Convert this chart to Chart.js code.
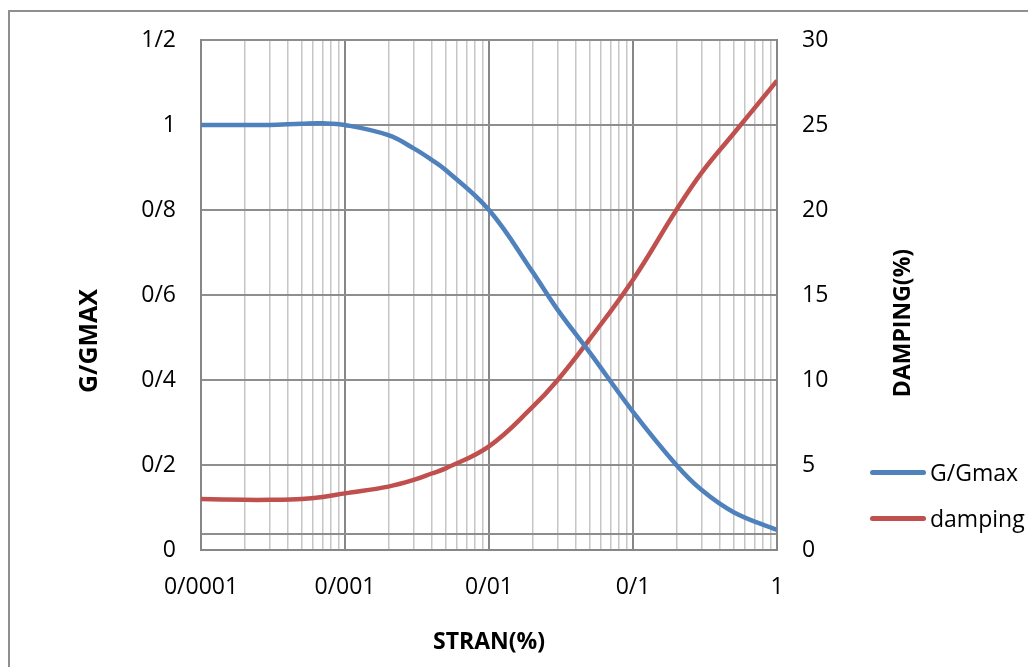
<!DOCTYPE html>
<html lang="en">
<head>
    <meta charset="UTF-8">
    <title>G/Gmax and damping</title>
    <script src="https://cdn.jsdelivr.net/npm/chart.js"></script>
    <style>
        body {
            margin: 0;
            padding: 0;
            background: #ffffff;
            font-family: "Open Sans", sans-serif;
        }

        .frame {
            position: absolute;
            left: 8px;
            top: 10px;
            width: 1040px;
            height: 700px;
            border-left: 2px solid #8f8f8f;
            border-top: 2px solid #8f8f8f;
            pointer-events: none;
        }

        .wrap {
            position: absolute;
            left: 0;
            top: 0;
            width: 1028px;
            height: 667px;
        }

        .legend {
            position: absolute;
            left: 870px;
            top: 449px;
            font-size: 23px;
            color: #000;
        }

        .legend-item {
            display: flex;
            align-items: center;
            height: 46px;
        }

        .legend-line {
            display: inline-block;
            width: 56px;
            height: 5px;
            border-radius: 3px;
            margin-right: 4px;
        }
    </style>
</head>
<body>
    <div class="wrap"><canvas id="chart"></canvas></div>
    <div class="frame"></div>
    <div class="legend" id="legend"></div>

    <script>
        // data
        const strain = [0.0001, 0.0002, 0.0003, 0.0005, 0.0007, 0.001, 0.002, 0.003, 0.004, 0.005, 0.01, 0.02, 0.03, 0.05, 0.1, 0.2, 0.3, 0.5, 1];
        const gGmax = [1.0, 1.0, 1.0, 1.003, 1.004, 1.0, 0.976, 0.945, 0.918, 0.894, 0.80, 0.655, 0.565, 0.465, 0.325, 0.2, 0.141, 0.089, 0.047];
        const damping = [3.0, 2.95, 2.95, 3.0, 3.12, 3.33, 3.73, 4.12, 4.5, 4.8, 6.1, 8.4, 10.0, 12.4, 15.9, 20.0, 22.2, 24.5, 27.6];

        const xMajorTicks = [0.0001, 0.001, 0.01, 0.1, 1];
        const leftTicks = [0, 0.2, 0.4, 0.6, 0.8, 1, 1.2];
        const leftExtraLine = [0.0376];
        const rightTicks = [0, 5, 10, 15, 20, 25, 30];

        const seriesNames = ['G/Gmax', 'damping'];
        const seriesColors = ['#4F81BD', '#C0504D'];
        const leftTitle = 'G/GMAX';
        const rightTitle = 'DAMPING(%)';

        // minor ticks 2..9 per decade
        const xTicks = [];
        xMajorTicks.forEach((d, i) => {
            xTicks.push(d);
            if (i < xMajorTicks.length - 1) {
                for (let k = 2; k <= 9; k++) xTicks.push(+(d * k).toPrecision(3));
            }
        });

        const slash = v => String(v).replace('.', '/');
        const tickFont = { family: 'Open Sans', size: 23 };
        const titleFont = { family: 'Open Sans', size: 23, weight: 'bold' };

        function drawUpTitle(ctx, text, x, y, size) {
            ctx.save();
            ctx.translate(x, y);
            ctx.rotate(-Math.PI / 2);
            ctx.font = 'bold ' + size + 'px "Open Sans"';
            ctx.fillStyle = '#000';
            ctx.textAlign = 'center';
            ctx.textBaseline = 'middle';
            ctx.fillText(text, 0, 0);
            ctx.restore();
        }

        // both y titles read bottom to top and sit a bit below the middle
        const yTitlesPlugin = {
            id: 'yTitles',
            afterDraw(chart) {
                const area = chart.chartArea;
                const mid = (area.top + area.bottom) / 2;
                drawUpTitle(chart.ctx, leftTitle, chart.scales.y.left + 90, mid + 46, 25);
                drawUpTitle(chart.ctx, rightTitle, chart.scales.y1.left + 126, mid + 28, 23);
            }
        };

        new Chart(document.getElementById('chart'), {
            type: 'line',
            data: {
                datasets: [
                    {
                        label: seriesNames[0],
                        data: strain.map((x, i) => ({ x: x, y: gGmax[i] })),
                        borderColor: seriesColors[0],
                        borderWidth: 4.5,
                        pointRadius: 0,
                        tension: 0.4,
                        yAxisID: 'y'
                    },
                    {
                        label: seriesNames[1],
                        data: strain.map((x, i) => ({ x: x, y: damping[i] })),
                        borderColor: seriesColors[1],
                        borderWidth: 4.5,
                        pointRadius: 0,
                        tension: 0.4,
                        yAxisID: 'y1'
                    }
                ]
            },
            options: {
                responsive: true,
                maintainAspectRatio: false,
                animation: false,
                layout: { padding: { top: 40, right: 103, bottom: 0, left: 0 } },
                plugins: {
                    legend: { display: false },
                    tooltip: { enabled: false }
                },
                scales: {
                    x: {
                        type: 'logarithmic',
                        min: 0.0001,
                        max: 1,
                        afterBuildTicks: s => { s.ticks = xTicks.map(v => ({ value: v })); },
                        afterFit: s => { s.height = 117; },
                        ticks: {
                            autoSkip: false,
                            maxRotation: 0,
                            padding: 24,
                            color: '#000',
                            font: tickFont,
                            callback: v => xMajorTicks.includes(v) ? slash(v) : ''
                        },
                        grid: {
                            drawTicks: false,
                            lineWidth: c => xMajorTicks.includes(c.tick.value) ? 2 : 1.5,
                            color: c => xMajorTicks.includes(c.tick.value) ? '#878787' : '#c6c6c6'
                        },
                        border: { color: '#878787', width: 2 },
                        title: {
                            display: true,
                            text: 'STRAN(%)',
                            color: '#000',
                            font: titleFont,
                            padding: { top: 0, bottom: 11 }
                        }
                    },
                    y: {
                        position: 'left',
                        min: 0,
                        max: 1.2,
                        afterBuildTicks: s => { s.ticks = leftTicks.concat(leftExtraLine).map(v => ({ value: v })); },
                        afterFit: s => { s.width = 201; },
                        ticks: {
                            padding: 25,
                            color: '#000',
                            font: tickFont,
                            callback: v => leftTicks.includes(v) ? slash(v) : ''
                        },
                        grid: { drawTicks: false, color: '#8e8e8e', lineWidth: 2 },
                        border: { color: '#878787', width: 2 }
                    },
                    y1: {
                        position: 'right',
                        min: 0,
                        max: 30,
                        afterBuildTicks: s => { s.ticks = rightTicks.map(v => ({ value: v })); },
                        afterFit: s => { s.width = 148; },
                        ticks: {
                            padding: 25,
                            color: '#000',
                            font: tickFont
                        },
                        grid: { drawOnChartArea: false, drawTicks: false },
                        border: { color: '#878787', width: 2 }
                    }
                }
            },
            plugins: [yTitlesPlugin]
        });

        // legend as html
        const legend = document.getElementById('legend');
        seriesNames.forEach((name, i) => {
            const item = document.createElement('div');
            item.className = 'legend-item';
            item.innerHTML = '<span class="legend-line" style="background:' + seriesColors[i] + '"></span>' + name;
            legend.appendChild(item);
        });
    </script>
</body>
</html>
